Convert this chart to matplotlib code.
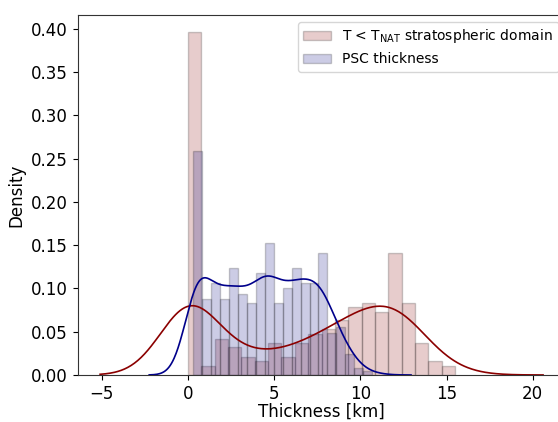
import numpy as np
import matplotlib.pyplot as plt

# histogram densities (20 bins each)
tnat_edges_range = (0.0, 15.5)
tnat_density = [0.396, 0.010, 0.042, 0.032, 0.021, 0.016, 0.037, 0.021, 0.037, 0.047,
                0.053, 0.063, 0.079, 0.083, 0.073, 0.141, 0.083, 0.037, 0.016, 0.010]

psc_edges_range = (0.29, 10.69)
psc_density = [0.259, 0.088, 0.106, 0.088, 0.124, 0.094, 0.083, 0.118, 0.153, 0.083,
               0.100, 0.124, 0.106, 0.106, 0.141, 0.048, 0.056, 0.024, 0.008, 0.005]

tnat_bw = 1.7
psc_bw = 0.75


def weighted_kde(centers, weights, bw, lo, hi, npts=400):
    centers = np.asarray(centers)
    weights = np.asarray(weights, dtype=float)
    weights = weights / weights.sum()
    xs = np.linspace(lo - 3 * bw, hi + 3 * bw, npts)
    z = (xs[:, None] - centers[None, :]) / bw
    ys = (np.exp(-0.5 * z ** 2) * weights).sum(axis=1) / (bw * np.sqrt(2 * np.pi))
    return xs, ys


fig = plt.figure(figsize=(5.58, 4.22), dpi=100)
ax = fig.add_axes([0.1392, 0.1114, 0.8742, 0.8531])

tnat_edges = np.linspace(*tnat_edges_range, len(tnat_density) + 1)
psc_edges = np.linspace(*psc_edges_range, len(psc_density) + 1)
tnat_centers = 0.5 * (tnat_edges[:-1] + tnat_edges[1:])
psc_centers = 0.5 * (psc_edges[:-1] + psc_edges[1:])

ax.hist(tnat_centers, bins=tnat_edges, weights=tnat_density, color='darkred', alpha=0.2,
        edgecolor='black', linewidth=1.0, label=r'T < T$_{\mathrm{NAT}}$ stratospheric domain')
ax.hist(psc_centers, bins=psc_edges, weights=psc_density, color='navy', alpha=0.2,
        edgecolor='black', linewidth=1.0, label='PSC thickness')

# KDE curves, spanning the data range +/- 3 bandwidths
xr, yr = weighted_kde(np.r_[tnat_edges[0], tnat_centers[1:-1], tnat_edges[-1]],
                      tnat_density, tnat_bw, tnat_edges[0], tnat_edges[-1])
xb, yb = weighted_kde(np.r_[psc_edges[0] + 0.15, psc_centers[1:-1], psc_edges[-1]],
                      psc_density, psc_bw, 0.0, psc_edges[-1])
ax.plot(xr, yr, color='darkred', linewidth=1.2)
ax.plot(xb, yb, color='darkblue', linewidth=1.2)

ax.set_xlim(-6.4, 21.9)
ax.set_ylim(0, 0.416)
ax.set_xticks([-5, 0, 5, 10, 15, 20])
ax.set_yticks(np.arange(0, 0.41, 0.05))
ax.tick_params(labelsize=12)
for s in ax.spines.values():
    s.set_color('#333333')
ax.set_xlabel('Thickness [km]', fontsize=12, labelpad=0)
ax.set_ylabel('Density', fontsize=12)
ax.legend(loc='upper right', fontsize=10)

fig.savefig('out.png', dpi=100)
